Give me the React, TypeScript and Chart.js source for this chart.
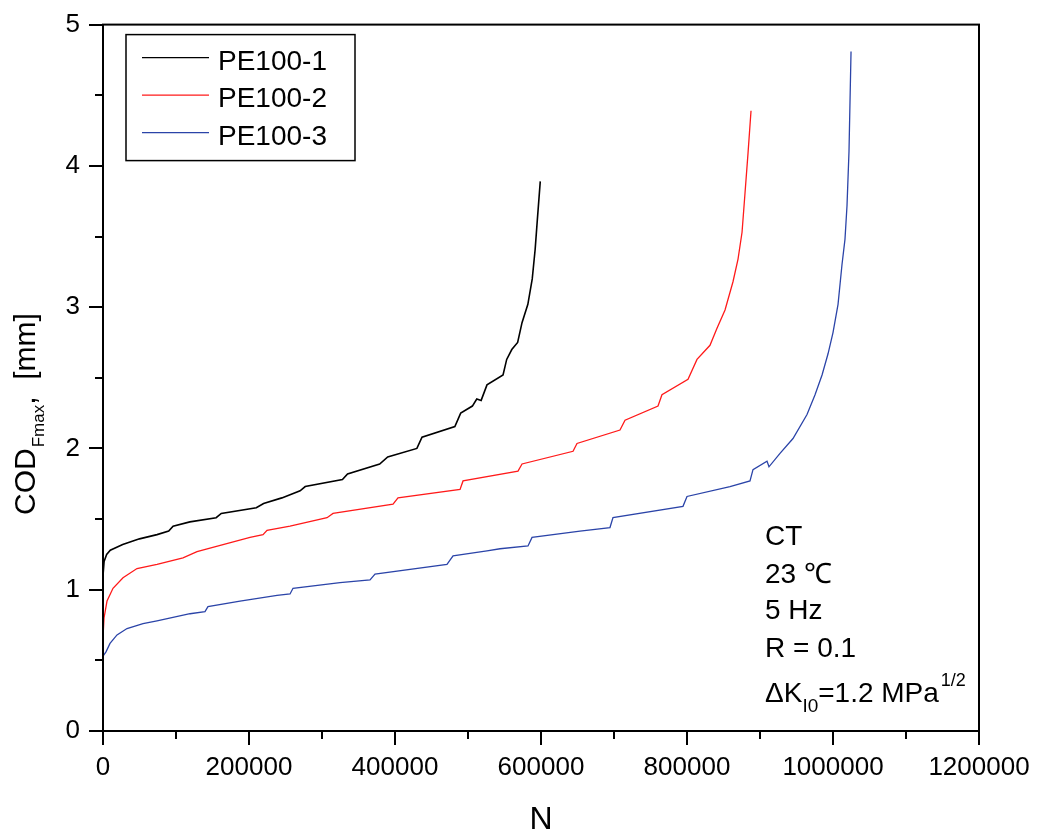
import React, { useEffect, useRef } from 'react';
import { Chart, registerables } from 'chart.js';

Chart.register(...registerables);

const W = 1039;
const H = 834;
const FONT = '"Liberation Sans", Arial, Helvetica, sans-serif';

// ---- data (N cycles, COD_Fmax in mm) ----
const SERIES_NAMES = ['PE100-1', 'PE100-2', 'PE100-3'];
const SERIES_COLORS = ['#000000', '#ff1a1a', '#2b44a8'];

const N1 = [0, 1500, 5000, 10000, 27000, 50000, 74000, 90000, 96000, 119000, 155000, 162000, 210000, 220000, 245000, 270000, 277000, 328000, 335000, 379000, 390000, 430000, 437000, 482000, 490000, 506000, 512000, 518000, 526000, 548000, 553000, 560000, 568000, 574000, 582000, 588000, 592000, 595000, 599000];
const COD1 = [1.10, 1.20, 1.25, 1.28, 1.32, 1.36, 1.39, 1.415, 1.45, 1.48, 1.51, 1.54, 1.58, 1.61, 1.65, 1.70, 1.73, 1.78, 1.82, 1.89, 1.94, 2.00, 2.08, 2.155, 2.25, 2.30, 2.35, 2.34, 2.45, 2.52, 2.63, 2.70, 2.75, 2.89, 3.02, 3.20, 3.41, 3.62, 3.89];

const N2 = [0, 1400, 5500, 13700, 27400, 46600, 74000, 109600, 128800, 164400, 201400, 219200, 224700, 256200, 306900, 315100, 397300, 404100, 489100, 493200, 568500, 574000, 643900, 649300, 708200, 715100, 760300, 765700, 801400, 813700, 831500, 841100, 852100, 863000, 869900, 875400, 879500, 883600, 887700];
const COD2 = [0.66, 0.80, 0.92, 1.01, 1.085, 1.15, 1.18, 1.225, 1.27, 1.32, 1.37, 1.39, 1.42, 1.45, 1.51, 1.54, 1.605, 1.65, 1.71, 1.77, 1.84, 1.89, 1.98, 2.035, 2.13, 2.20, 2.30, 2.38, 2.49, 2.63, 2.73, 2.85, 2.98, 3.18, 3.34, 3.53, 3.81, 4.09, 4.39];

const N3 = [0, 4100, 9600, 19200, 32900, 54800, 74000, 119200, 139700, 143800, 187700, 238400, 256200, 260300, 324700, 365800, 372600, 471200, 479500, 526000, 543900, 582200, 587700, 653400, 694500, 698600, 794500, 800000, 858900, 886300, 890400, 909600, 912300, 927400, 945200, 964400, 975400, 985000, 993200, 1000000, 1006900, 1012300, 1016400, 1019200, 1021900, 1024700];
const COD3 = [0.53, 0.56, 0.62, 0.68, 0.725, 0.76, 0.78, 0.83, 0.845, 0.88, 0.92, 0.96, 0.97, 1.01, 1.05, 1.07, 1.11, 1.18, 1.24, 1.275, 1.29, 1.31, 1.37, 1.415, 1.44, 1.51, 1.59, 1.66, 1.73, 1.77, 1.85, 1.91, 1.87, 1.965, 2.07, 2.24, 2.38, 2.52, 2.67, 2.82, 3.02, 3.30, 3.48, 3.72, 4.10, 4.81];

const X_MAJOR = [0, 200000, 400000, 600000, 800000, 1000000, 1200000];
const X_MINOR = [100000, 300000, 500000, 700000, 900000, 1100000];
const Y_MAJOR = [0, 1, 2, 3, 4, 5];
const Y_MINOR = [0.5, 1.5, 2.5, 3.5, 4.5];

const X_TITLE = 'N';
const Y_TITLE_MAIN = 'COD';
const Y_TITLE_SUB = 'Fmax';
const Y_TITLE_REST = ',  [mm]';
const NOTE_LINES = ['CT', '23 \u2103', '5 Hz', 'R = 0.1'];

const toPoints = (xs: number[], ys: number[]) => xs.map((x, i) => ({ x, y: ys[i] }));

const decorPlugin = {
  id: 'originDecor',
  afterDraw(chart: any) {
    const ctx = chart.ctx as CanvasRenderingContext2D;
    const { left, right, top, bottom } = chart.chartArea;
    const xs = chart.scales.x;
    const ys = chart.scales.y;
    ctx.save();
    // frame
    ctx.strokeStyle = '#000';
    ctx.lineWidth = 2;
    ctx.strokeRect(left, top, right - left, bottom - top);
    // ticks
    ctx.beginPath();
    X_MAJOR.forEach((v) => {
      const p = Math.round(xs.getPixelForValue(v));
      ctx.moveTo(p, bottom);
      ctx.lineTo(p, bottom + 14);
    });
    X_MINOR.forEach((v) => {
      const p = Math.round(xs.getPixelForValue(v));
      ctx.moveTo(p, bottom);
      ctx.lineTo(p, bottom + 8);
    });
    Y_MAJOR.forEach((v) => {
      const p = Math.round(ys.getPixelForValue(v));
      ctx.moveTo(left, p);
      ctx.lineTo(left - 14, p);
    });
    Y_MINOR.forEach((v) => {
      const p = Math.round(ys.getPixelForValue(v));
      ctx.moveTo(left, p);
      ctx.lineTo(left - 8, p);
    });
    ctx.stroke();

    ctx.fillStyle = '#000';
    ctx.textBaseline = 'alphabetic';
    ctx.textAlign = 'left';

    // x title
    ctx.font = `32px ${FONT}`;
    ctx.textAlign = 'center';
    ctx.fillText(X_TITLE, (left + right) / 2, 829);
    ctx.textAlign = 'left';

    // y title (rotated, with subscript)
    ctx.save();
    ctx.translate(35, 515);
    ctx.rotate(-Math.PI / 2);
    ctx.font = `30px ${FONT}`;
    ctx.fillText(Y_TITLE_MAIN, 0, 0);
    let off = ctx.measureText(Y_TITLE_MAIN).width + 1;
    ctx.font = `17px ${FONT}`;
    ctx.fillText(Y_TITLE_SUB, off, 9);
    off += ctx.measureText(Y_TITLE_SUB).width;
    ctx.font = `30px ${FONT}`;
    ctx.fillText(Y_TITLE_REST, off, 0);
    ctx.restore();

    // legend
    ctx.lineWidth = 1.5;
    ctx.strokeStyle = '#000';
    ctx.strokeRect(left + 23, top + 10, 229, 126);
    ctx.font = `28px ${FONT}`;
    SERIES_NAMES.forEach((name, i) => {
      const ly = top + 33 + i * 37.5;
      ctx.strokeStyle = SERIES_COLORS[i];
      ctx.lineWidth = 1.3;
      ctx.beginPath();
      ctx.moveTo(left + 39, ly);
      ctx.lineTo(left + 106, ly);
      ctx.stroke();
      ctx.fillStyle = '#000';
      ctx.fillText(name, left + 115, ly + 12);
    });

    // annotation
    const ax = 765;
    const baselines = [545, 583, 619, 657];
    ctx.font = `28px ${FONT}`;
    NOTE_LINES.forEach((t, i) => ctx.fillText(t, ax, baselines[i]));
    let x = ax;
    const b = 702;
    ctx.font = `28px ${FONT}`;
    ctx.fillText('\u0394K', x, b);
    x += ctx.measureText('\u0394K').width;
    ctx.font = `19px ${FONT}`;
    ctx.fillText('I0', x, b + 10);
    x += ctx.measureText('I0').width;
    ctx.font = `28px ${FONT}`;
    ctx.fillText('=1.2 MPa', x, b);
    x += ctx.measureText('=1.2 MPa').width + 2;
    ctx.font = `18px ${FONT}`;
    ctx.fillText('1/2', x, b - 16);
    ctx.restore();
  },
};

export default function App() {
  const ref = useRef<HTMLCanvasElement | null>(null);
  useEffect(() => {
    const canvas = ref.current;
    if (!canvas) return;
    const lineDs = (i: number, xs: number[], ys: number[], w: number) => ({
      label: SERIES_NAMES[i],
      data: toPoints(xs, ys),
      borderColor: SERIES_COLORS[i],
      backgroundColor: SERIES_COLORS[i],
      borderWidth: w,
      pointRadius: 0,
      tension: 0,
      fill: false,
    });
    const chart = new Chart(canvas, {
      type: 'line',
      data: {
        datasets: [
          lineDs(0, N1, COD1, 1.6),
          lineDs(1, N2, COD2, 1.3),
          lineDs(2, N3, COD3, 1.3),
        ],
      },
      options: {
        animation: false,
        responsive: false,
        devicePixelRatio: 1,
        parsing: false,
        layout: { padding: { left: 0, top: 21, right: 60, bottom: 0 } },
        plugins: { legend: { display: false }, tooltip: { enabled: false } },
        scales: {
          x: {
            type: 'linear',
            min: 0,
            max: 1200000,
            afterFit: (s: any) => { s.height = 103; },
            afterBuildTicks: (s: any) => { s.ticks = X_MAJOR.map((v) => ({ value: v })); },
            ticks: {
              stepSize: 200000,
              padding: 7,
              maxRotation: 0,
              autoSkip: false,
              color: '#000',
              font: { family: FONT, size: 26 },
              callback: (v: any) => String(v),
            },
            grid: { display: true, drawOnChartArea: false, drawTicks: true, tickLength: 14, tickColor: 'rgba(0,0,0,0)', color: 'rgba(0,0,0,0)' },
            border: { display: false },
          },
          y: {
            type: 'linear',
            min: 0,
            max: 5,
            afterFit: (s: any) => { s.width = 103; },
            afterBuildTicks: (s: any) => { s.ticks = Y_MAJOR.map((v) => ({ value: v })); },
            ticks: {
              stepSize: 1,
              padding: 9,
              color: '#000',
              font: { family: FONT, size: 26 },
              callback: (v: any) => String(v),
            },
            grid: { display: true, drawOnChartArea: false, drawTicks: true, tickLength: 14, tickColor: 'rgba(0,0,0,0)', color: 'rgba(0,0,0,0)' },
            border: { display: false },
          },
        },
      },
      plugins: [decorPlugin],
    } as any);
    return () => chart.destroy();
  }, []);
  return (
    <div style={{ position: 'fixed', left: 0, top: 0, width: W, height: H, background: '#fff' }}>
      <canvas ref={ref} width={W} height={H} style={{ width: W, height: H, display: 'block' }} />
    </div>
  );
}
